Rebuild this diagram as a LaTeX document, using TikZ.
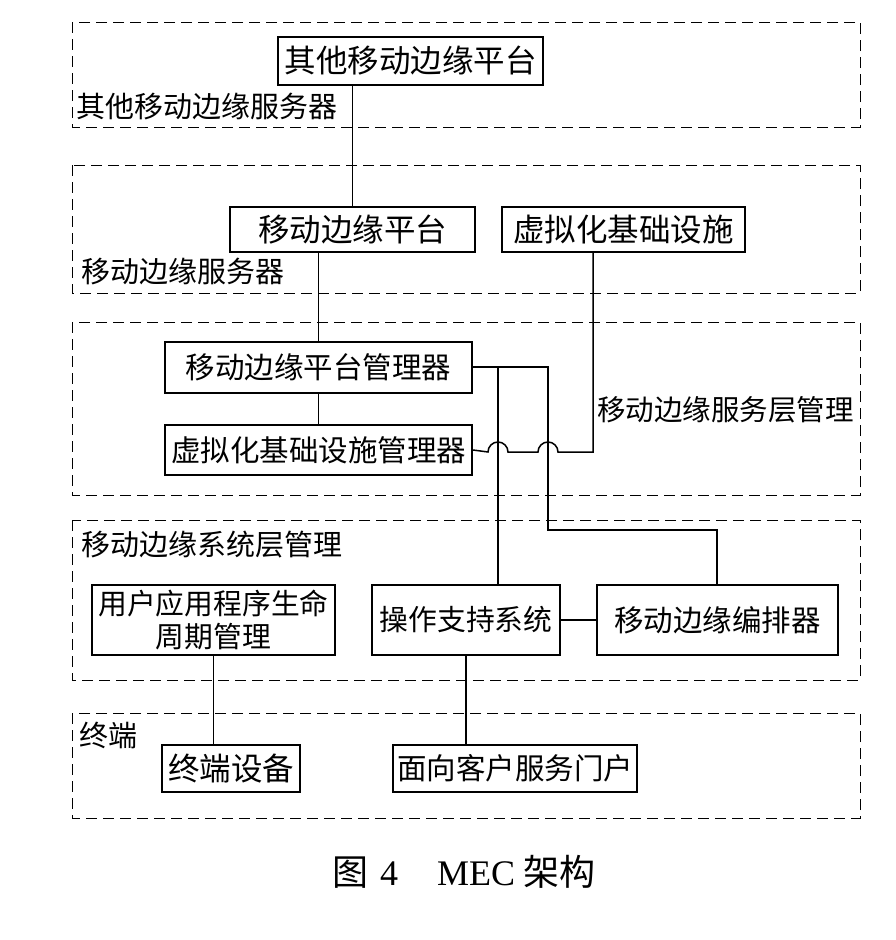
\documentclass[tikz,border=0pt]{standalone}
\usepackage{fontspec}
\newfontfamily\cjk{Noto Sans CJK SC}
\setmainfont{Liberation Serif}
\begin{document}
\begin{tikzpicture}[x=1pt,y=-1pt,
  region/.style={draw, dashed, dash pattern=on 11pt off 6pt, line width=0.9pt},
  box/.style={draw, line width=2pt, inner sep=0pt, align=center,
    font=\cjk\fontsize{29.5}{33}\selectfont},
  big/.style={font=\cjk\fontsize{31.5}{35}\selectfont},
  tag/.style={anchor=west, inner sep=0pt, font=\cjk\fontsize{29}{32}\selectfont},
  link/.style={line width=1.5pt}]
\useasboundingbox (0,0) rectangle (896,940);
\fill[white] (0,0) rectangle (896,940);

% layer frames
\draw[region] (72,22) rectangle (860,127);
\draw[region] (72,165) rectangle (860,293);
\draw[region] (72,322) rectangle (860,495);
\draw[region] (72,520) rectangle (860,680);
\draw[region] (72,713) rectangle (860,818);

% layer names
\node[tag] (l1) at (76,107) {其他移动边缘服务器};
\node[tag] (l2) at (81,272) {移动边缘服务器};
\node[tag, font=\cjk\fontsize{28.5}{32}\selectfont] (l3) at (597,410) {移动边缘服务层管理};
\node[tag] (l4) at (81,545) {移动边缘系统层管理};
\node[tag] (l5) at (79,735) {终端};

% functional blocks
\node[box, big, minimum width=265, minimum height=48] (omep) at (410.5,61) {其他移动边缘平台};
\node[box, big, minimum width=245, minimum height=45] (mep) at (352.5,229.5) {移动边缘平台};
\node[box, big, minimum width=243, minimum height=45] (vi) at (623.5,229.5) {虚拟化基础设施};
\node[box, minimum width=307, minimum height=51] (mepm) at (318.5,367.5) {移动边缘平台管理器};
\node[box, minimum width=307, minimum height=50] (vim) at (318.5,450) {虚拟化基础设施管理器};
\node[box, font=\cjk\fontsize{28.8}{33}\selectfont, minimum width=243, minimum height=70] (ualcm) at (213.5,620) {用户应用程序生命\\周期管理};
\node[box, font=\cjk\fontsize{28.8}{33}\selectfont, minimum width=188, minimum height=70] (oss) at (466,620) {操作支持系统};
\node[box, minimum width=241, minimum height=70] (meo) at (717.5,620) {移动边缘编排器};
\node[box, big, minimum width=138, minimum height=47] (ue) at (231,768.5) {终端设备};
\node[box, minimum width=244, minimum height=47] (cfs) at (515,768.5) {面向客户服务门户};

% routing points
\coordinate (vidown) at (593,452);
\coordinate (mepmturn) at (548,367);
\coordinate (ossjoin) at (498,367);
\coordinate (meobend) at (548,530);
\coordinate (meotop) at (717,530);

% connectors
\draw[link] (mep.north) -- (mep.north |- omep.south);
\draw[link] (mepm.north) -- (mepm.north |- mep.south);
\draw[link] (mepm.south) -- (vim.north);
\draw[link] (vi.south -| vidown) -- (vidown) -- (558,452) arc[start angle=0, end angle=180, radius=10pt]
  -- (508,452) arc[start angle=0, end angle=180, radius=10pt] -- (vim.east);
\draw[link] (mepm.east |- mepmturn) -- (mepmturn) -- (meobend) -- (meotop) -- (meo.north -| meotop);
\draw[link] (ossjoin) -- (oss.north -| ossjoin);
\draw[link] (oss.east) -- (meo.west);
\draw[link] (ualcm.south) -- (ualcm.south |- ue.north);
\draw[link] (oss.south) -- (oss.south |- cfs.north);

% caption
\node[inner sep=0pt, anchor=west, font=\fontsize{36}{40}\selectfont] (cap) at (332,872)
  {{\cjk 图}\hspace{12pt}4\hspace{39pt}MEC\hspace{8pt}{\cjk 架构}};
\end{tikzpicture}
\end{document}
